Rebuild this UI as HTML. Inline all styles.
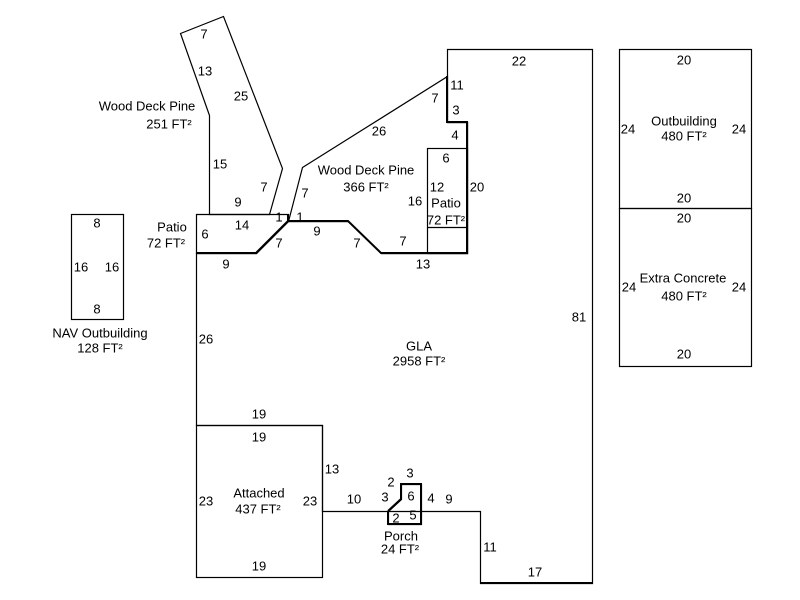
<!DOCTYPE html>
<html><head><meta charset="utf-8"><style>
html,body{margin:0;padding:0;background:#fff;}
svg{display:block;}
text{font-family:"Liberation Sans",Arial,sans-serif;font-size:13px;fill:#000;text-anchor:middle;}
</style></head><body>
<svg width="800" height="600" viewBox="0 0 800 600" xmlns="http://www.w3.org/2000/svg">
<g fill="none" stroke="#000" stroke-width="1.2" stroke-linejoin="miter">
<!-- GLA -->
<polygon points="447.5,49.5 592.5,49.5 592.5,583.5 480.5,583.5 480.5,511.5 421.5,511.5 421.5,484.5 401.5,484.5 401.5,499.5 388.5,511.5 322.5,511.5 322.5,425.5 196.5,425.5 196.5,253.5 256.5,253.5 288.5,221.5 348.5,221.5 381.5,253.5 467.5,253.5 467.5,122.5 447.5,122.5"/>
<!-- Deck 251 -->
<polygon points="180.5,33.5 223.5,16.5 282.5,168.5 269.5,214.5 209.5,214.5 209.5,115.5"/>
<!-- Patio left -->
<polygon points="196.5,214.5 288.5,214.5 288.5,221.5 256.5,253.5 196.5,253.5"/>
<!-- Deck 366 -->
<polygon points="288.5,221.5 302.5,167.5 447.5,76.5 447.5,122.5 467.5,122.5 467.5,253.5 381.5,253.5 348.5,221.5"/>
<!-- Patio small -->
<rect x="427.5" y="148.5" width="40" height="105"/>
<line x1="427.5" y1="227.5" x2="467.5" y2="227.5"/>
<!-- Porch -->
<polygon points="388.5,511.5 388.5,524.5 421.5,524.5 421.5,511.5"/>
<!-- Attached -->
<rect x="196.5" y="425.5" width="126" height="152"/>
<!-- NAV -->
<rect x="71.5" y="214.5" width="52" height="105"/>
<!-- Outbuilding / Extra concrete -->
<rect x="619.5" y="49.5" width="132" height="159"/>
<rect x="619.5" y="208.5" width="132" height="158"/>
</g>
<!-- thick shared segments -->
<g fill="none" stroke="#000" stroke-width="2">
<polyline points="288,214 288,221 348,221 381,253 467,253 467,122 447,122 447,76"/>
<polyline points="196,253 256,253 288,221"/>
<polyline points="388,511 401,499 401,484 421,484 421,524 388,524 388,511"/>
<line x1="480" y1="583" x2="592" y2="583"/>
</g>
<!-- Deck 251 labels -->
<text x="204" y="38.5">7</text>
<text x="205" y="75.5">13</text>
<text x="241" y="100.5">25</text>
<text x="147" y="110.5">Wood Deck Pine</text>
<text x="169" y="128.5">251 FT²</text>
<text x="220" y="168.5">15</text>
<text x="264" y="191.5">7</text>
<text x="238" y="206.5">9</text>
<text x="242" y="229.5">14</text>
<text x="279" y="221.5">1</text>
<text x="300" y="221.5">1</text>
<!-- Patio left -->
<text x="172" y="231.5">Patio</text>
<text x="166" y="247.5">72 FT²</text>
<text x="205" y="238.5">6</text>
<text x="226" y="268.5">9</text>
<text x="279" y="247.5">7</text>
<!-- Deck 366 -->
<text x="305" y="197.5">7</text>
<text x="379" y="135.5">26</text>
<text x="366" y="174.5">Wood Deck Pine</text>
<text x="366" y="191.5">366 FT²</text>
<text x="317" y="235.5">9</text>
<text x="357" y="247.5">7</text>
<text x="403" y="245.5">7</text>
<text x="423" y="268.5">13</text>
<text x="415" y="205.5">16</text>
<text x="435" y="102.5">7</text>
<text x="457" y="89.5">11</text>
<text x="456" y="114.5">3</text>
<text x="455" y="139.5">4</text>
<text x="519" y="65.5">22</text>
<!-- Patio small -->
<text x="446" y="162.5">6</text>
<text x="437" y="191.5">12</text>
<text x="446" y="207.5">Patio</text>
<text x="446" y="224.5">72 FT²</text>
<text x="477" y="191.5">20</text>
<!-- GLA -->
<text x="579" y="321.5">81</text>
<text x="419" y="350.5">GLA</text>
<text x="419" y="365.5">2958 FT²</text>
<text x="206" y="343.5">26</text>
<text x="259" y="418.5">19</text>
<!-- Attached -->
<text x="259" y="441.5">19</text>
<text x="259" y="497.5">Attached</text>
<text x="258" y="513.5">437 FT²</text>
<text x="206" y="505.5">23</text>
<text x="310" y="505.5">23</text>
<text x="259" y="570.5">19</text>
<text x="332" y="473.5">13</text>
<!-- Porch -->
<text x="354" y="503.5">10</text>
<text x="391" y="486.5">2</text>
<text x="410" y="477.5">3</text>
<text x="385" y="501.5">3</text>
<text x="411" y="500.5">6</text>
<text x="431" y="502.5">4</text>
<text x="449" y="503.5">9</text>
<text x="396" y="522.5">2</text>
<text x="413" y="519.5">5</text>
<text x="401" y="540.5">Porch</text>
<text x="400" y="553.5">24 FT²</text>
<text x="490" y="551.5">11</text>
<text x="535" y="576.5">17</text>
<!-- Outbuilding -->
<text x="684" y="64.5">20</text>
<text x="684" y="125.5">Outbuilding</text>
<text x="684" y="140.5">480 FT²</text>
<text x="628" y="133.5">24</text>
<text x="739" y="133.5">24</text>
<text x="684" y="202.5">20</text>
<text x="684" y="222.5">20</text>
<text x="683" y="282.5">Extra Concrete</text>
<text x="684" y="300.5">480 FT²</text>
<text x="629" y="291.5">24</text>
<text x="739" y="291.5">24</text>
<text x="684" y="358.5">20</text>
<!-- NAV -->
<text x="97" y="227.5">8</text>
<text x="81" y="271.5">16</text>
<text x="112" y="271.5">16</text>
<text x="97" y="313.5">8</text>
<text x="100" y="337.5">NAV Outbuilding</text>
<text x="100" y="352.5">128 FT²</text>
</svg>
</body></html>
